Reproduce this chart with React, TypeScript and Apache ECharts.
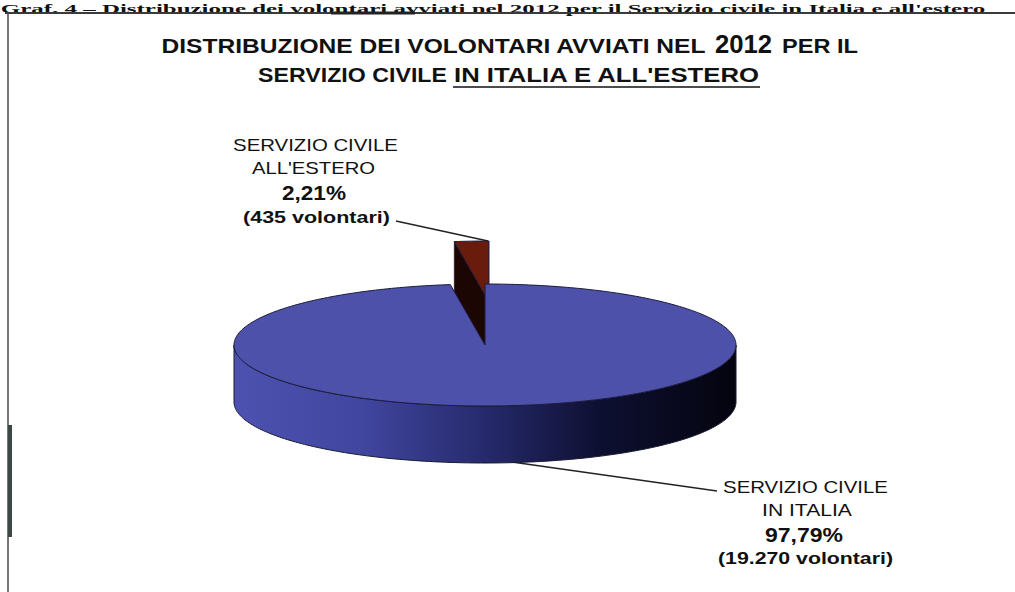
import { useEffect, useRef } from "react";
import * as echarts from "echarts";

// ---------- data ----------
const headerText =
  "Graf. 4 – Distribuzione dei volontari avviati nel 2012 per il Servizio civile in Italia e all'estero";
const titleLine1 = ["DISTRIBUZIONE DEI VOLONTARI AVVIATI NEL", "2012", "PER IL"];
const titleLine2 = ["SERVIZIO CIVILE", "IN ITALIA E ALL'ESTERO"];
const categories = ["SERVIZIO CIVILE IN ITALIA", "SERVIZIO CIVILE ALL'ESTERO"];
const labelNameLines = [
  ["SERVIZIO CIVILE", "IN ITALIA"],
  ["SERVIZIO CIVILE", "ALL'ESTERO"],
];
const volunteers = [19270, 435];

// ---------- style / layout ----------
const CX = 485;
const CY = 345;
const RX = 251;
const RY = 61;
const DEPTH = 57;
const EXPLODE = [
  [0, 0],
  [4, -43],
];
const TOP_COLORS = ["#4d51aa", "#6a1c0c"];
const WALL_COLORS = ["#2a2e78", "#1c0604"];
const SANS = '"Liberation Sans", Arial, sans-serif';
const SERIF = '"Liberation Serif", "Times New Roman", serif';

const total = volunteers.reduce((a, b) => a + b, 0);
const startAngles: number[] = [];
{
  let acc = 0;
  volunteers.forEach((v) => {
    startAngles.push((acc / total) * Math.PI * 2);
    acc += v;
  });
}
const pctText = (v: number) => ((v / total) * 100).toFixed(2).replace(".", ",") + "%";
const countText = (v: number) =>
  "(" + String(v).replace(/\B(?=(\d{3})+(?!\d))/g, ".") + " volontari)";

let measureCtx: CanvasRenderingContext2D | null = null;
function measure(text: string, size: number, weight: string, family: string) {
  if (!measureCtx) measureCtx = document.createElement("canvas").getContext("2d");
  measureCtx!.font = `${weight} ${size}px ${family}`;
  return measureCtx!.measureText(text).width;
}

function fitText(
  text: string,
  left: number,
  right: number,
  cy: number,
  size: number,
  weight: string,
  family: string = SANS
) {
  const w = measure(text, size, weight, family);
  return {
    type: "text",
    x: (left + right) / 2,
    y: cy,
    scaleX: (right - left) / w,
    silent: true,
    style: {
      text,
      fontSize: size,
      fontWeight: weight,
      fontFamily: family,
      fill: "#111",
      textAlign: "center",
      textVerticalAlign: "middle",
      align: "center",
      verticalAlign: "middle",
    },
  };
}

function line(points: number[][], width = 1.2, color = "#222") {
  return {
    type: "polyline",
    silent: true,
    shape: { points },
    style: { stroke: color, lineWidth: width, fill: null },
  };
}

export default function App() {
  const ref = useRef<HTMLDivElement>(null);

  useEffect(() => {
    if (!ref.current) return;
    const chart = echarts.init(ref.current, undefined, { renderer: "svg" });

    const renderItem = (params: any, api: any) => {
      const i = params.dataIndex;
      const v = api.value(0);
      const a0 = startAngles[i];
      const a1 = a0 + (v / total) * Math.PI * 2;
      const [ox, oy] = EXPLODE[i];
      const P = (t: number, down = 0) => [
        CX + ox + RX * Math.sin(t),
        CY + oy - RY * Math.cos(t) + down,
      ];
      const C = (down = 0) => [CX + ox, CY + oy + down];
      const arc = (t0: number, t1: number, down: number) => {
        const n = Math.max(2, Math.ceil((t1 - t0) / (Math.PI / 180)));
        const pts: number[][] = [];
        for (let k = 0; k <= n; k++) pts.push(P(t0 + ((t1 - t0) * k) / n, down));
        return pts;
      };
      const base = i === 0 ? 10 : 0;
      const children: any[] = [];
      if (Math.sin(a0) < -1e-6) {
        children.push({
          type: "polygon",
          z2: base,
          shape: { points: [C(), P(a0), P(a0, DEPTH), C(DEPTH)] },
          style: { fill: WALL_COLORS[i], stroke: "#150505", lineWidth: 0.6 },
        });
      }
      if (Math.sin(a1) > 1e-6) {
        children.push({
          type: "polygon",
          z2: base,
          shape: { points: [C(), P(a1), P(a1, DEPTH), C(DEPTH)] },
          style: { fill: WALL_COLORS[i], stroke: "#150505", lineWidth: 0.6 },
        });
      }
      const s0 = Math.max(a0, Math.PI / 2);
      const s1 = Math.min(a1, (Math.PI * 3) / 2);
      if (s1 > s0) {
        const pts = arc(s0, s1, 0).concat(arc(s0, s1, DEPTH).reverse());
        children.push({
          type: "polygon",
          z2: base + 1,
          shape: { points: pts },
          style: {
            fill: new echarts.graphic.LinearGradient(0, 0, 1, 0, [
              { offset: 0, color: "#4d52b0" },
              { offset: 0.25, color: "#4146a0" },
              { offset: 0.5, color: "#262a6c" },
              { offset: 0.72, color: "#0e1033" },
              { offset: 1, color: "#04040e" },
            ]),
            stroke: "#1a1a30",
            lineWidth: 1,
          },
        });
      }
      children.push({
        type: "polygon",
        z2: base + 2,
        shape: { points: [C()].concat(arc(a0, a1, 0)) },
        style: { fill: TOP_COLORS[i], stroke: "#1c1c3c", lineWidth: 1 },
      });
      return { type: "group", children };
    };

    const labels: any[] = [];
    // ALL'ESTERO label
    labels.push(fitText(labelNameLines[1][0], 233, 398, 145, 17, "normal"));
    labels.push(fitText(labelNameLines[1][1], 252, 375, 168, 17, "normal"));
    labels.push(fitText(pctText(volunteers[1]), 282, 346, 193, 20, "bold"));
    labels.push(fitText(countText(volunteers[1]), 243, 390, 217, 17, "bold"));
    // IN ITALIA label
    labels.push(fitText(labelNameLines[0][0], 723, 888, 487, 17, "normal"));
    labels.push(fitText(labelNameLines[0][1], 762, 852, 510, 17, "normal"));
    labels.push(fitText(pctText(volunteers[0]), 765, 843, 535, 20, "bold"));
    labels.push(fitText(countText(volunteers[0]), 718, 893, 558, 17, "bold"));

    const option: any = {
      animation: false,
      backgroundColor: "#ffffff",
      graphic: [
        // header line above the frame
        fitText(headerText, 0, 986, 8, 13, "bold", SERIF),
        // frame
        line([[5, 13], [1015, 13]], 2, "#3a3a3a"),
        line([[331, 13], [415, 13]], 3, "#222"),
        line([[8, 13], [8, 592]], 1.6, "#555"),
        line([[10, 425], [10, 537]], 4, "#3b4845"),
        // title
        fitText(titleLine1[0], 161, 706, 46, 21, "bold"),
        fitText(titleLine1[1], 715, 772, 44, 25, "bold"),
        fitText(titleLine1[2], 782, 858, 46, 21, "bold"),
        fitText(titleLine2[0], 258, 447, 75, 21, "bold"),
        fitText(titleLine2[1], 453, 760, 75, 21, "bold"),
        line([[453, 87], [760, 87]], 1.6, "#111"),
        // leader lines
        line([[396, 221], [488, 241]], 1.3, "#222"),
        line([[512, 462], [717, 491]], 1.3, "#222"),
        ...labels,
      ],
      series: [
        {
          type: "custom",
          name: "Volontari",
          coordinateSystem: "none",
          silent: true,
          renderItem,
          data: volunteers.map((v, i) => ({ name: categories[i], value: [v] })),
        },
      ],
    };
    chart.setOption(option);
    return () => chart.dispose();
  }, []);

  return (
    <div
      ref={ref}
      style={{ position: "fixed", left: 0, top: 0, width: 1015, height: 592 }}
    />
  );
}
